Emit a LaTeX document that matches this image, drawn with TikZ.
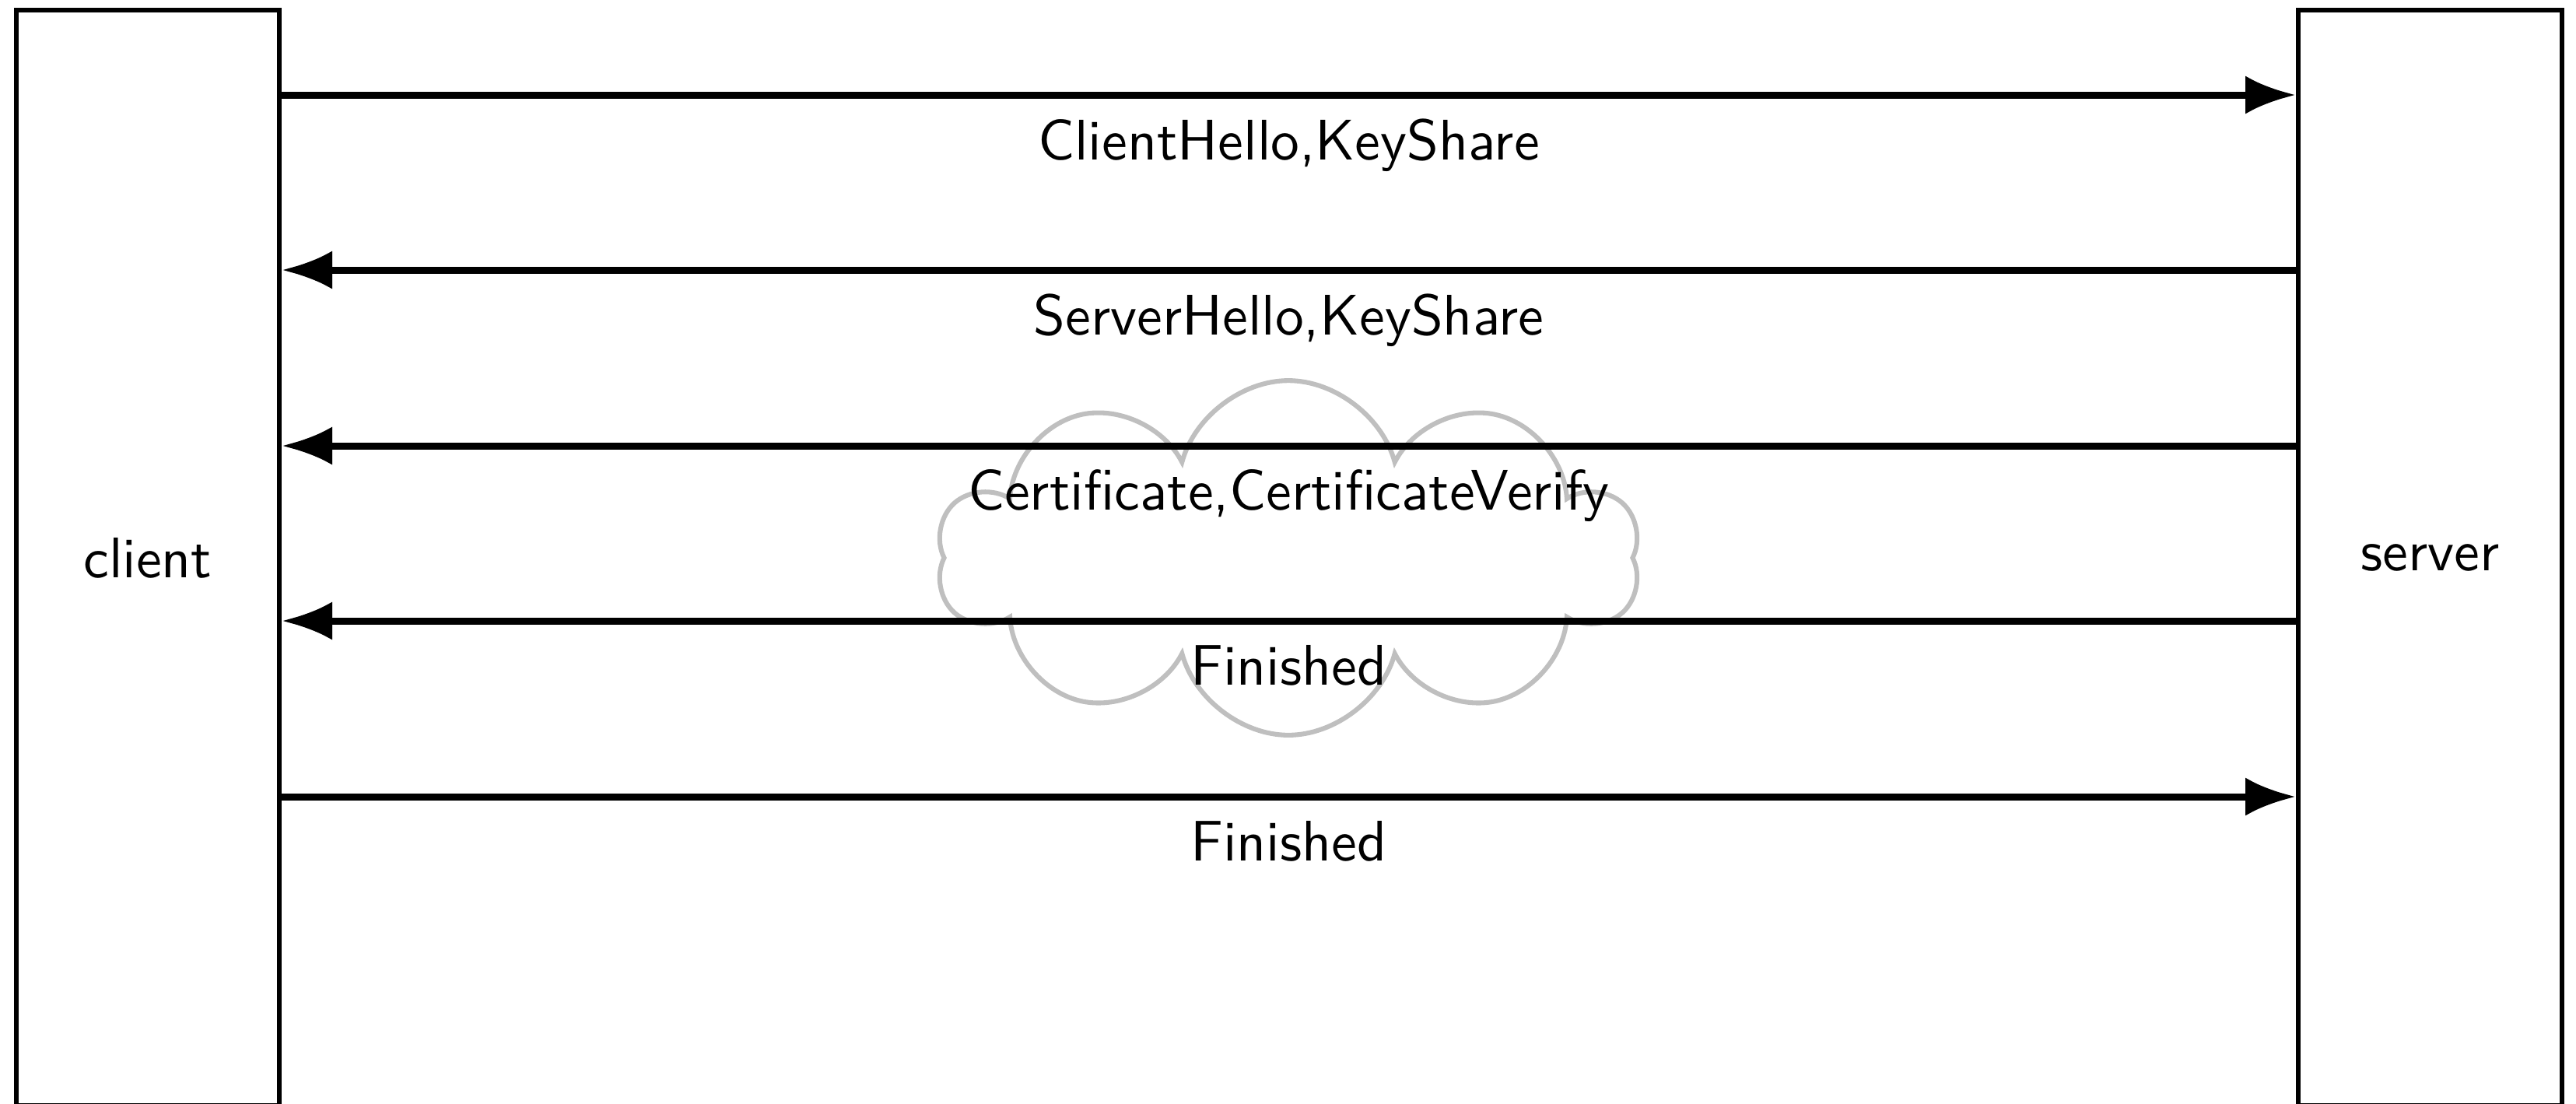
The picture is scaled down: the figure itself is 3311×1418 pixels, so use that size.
\documentclass[tikz,border=0pt]{standalone}
\usetikzlibrary{arrows.meta,shapes.symbols}
\begin{document}
\begin{tikzpicture}[
  x=0.14pt, y=-0.14pt,
  font=\sffamily\fontsize{10.3}{12.4}\selectfont,
  party/.style={draw, rectangle, line width=0.84pt, inner sep=0pt},
  msg/.style={line width=1.26pt, -{Latex[length=9.1pt,width=6.9pt]}},
  msglabel/.style={below, inner sep=3.7pt},
  haze/.style={cloud, cloud puffs=10, aspect=2, draw=gray!50, line width=0.85pt, inner sep=0pt}
]
\clip (0,0) rectangle (3311,1418);

% the two parties, running off the bottom edge
\node[party, minimum width=47.32pt, minimum height=197.1pt] (client) at (190,717) {client};
\node[party, minimum width=47.46pt, minimum height=197.1pt] (server) at (3123.5,717) {server};

% encrypted part of the handshake
\node[haze, minimum width=126.4pt, minimum height=63.8pt] (enc) at (1656,717) {};

% message rows
\coordinate (r1) at (0,122);
\coordinate (r2) at (0,347);
\coordinate (r3) at (0,573);
\coordinate (r4) at (0,798);
\coordinate (r5) at (0,1024);

\draw[msg] (client.east |- r1) -- node[msglabel] {ClientHello,KeyShare} (server.west |- r1);
\draw[msg] (server.west |- r2) -- node[msglabel] {ServerHello,KeyShare} (client.east |- r2);
\draw[msg] (server.west |- r3) -- node[msglabel] {Certificate,CertificateVerify} (client.east |- r3);
\draw[msg] (server.west |- r4) -- node[msglabel] {Finished} (client.east |- r4);
\draw[msg] (client.east |- r5) -- node[msglabel] {Finished} (server.west |- r5);
\end{tikzpicture}
\end{document}
